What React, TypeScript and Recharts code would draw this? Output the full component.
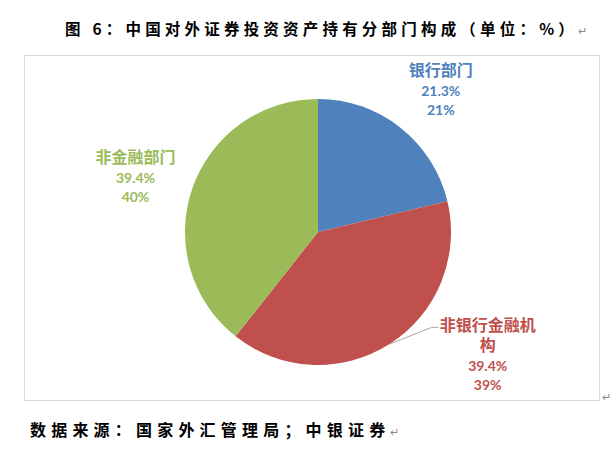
import React from "react";
import { Cell, Pie, PieChart } from "recharts";

const SECTORS = ["银行部门", "非银行金融机构", "非金融部门"];
const HOLDINGS = [21.3, 39.4, 39.4];
const SHARE_LABELS = ["21%", "39%", "40%"];
const COLORS = ["#4F81BD", "#C0504D", "#9BBB59"];

const TITLE = "图 6：中国对外证券投资资产持有分部门构成（单位：%）";
const SOURCE = "数据来源：国家外汇管理局；中银证券";

const data = SECTORS.map((name, i) => ({
  name,
  value: HOLDINGS[i],
  share: SHARE_LABELS[i],
}));

// where Excel's best-fit put each label, relative to the slice middle
const LABEL_LAYOUT = [
  { turn: -3, dist: 186, leader: false },
  { turn: 21, dist: 211, leader: true },
  { turn: 3, dist: 190, leader: false },
];

const RADIAN = Math.PI / 180;
const CN_FONT = '"Noto Sans CJK SC", sans-serif';

function renderLabel(props: any) {
  const { cx, cy, midAngle, outerRadius, index } = props;
  const item = data[index];
  const layout = LABEL_LAYOUT[index];
  const a = (midAngle + layout.turn) * RADIAN;
  const x = cx + layout.dist * Math.cos(a);
  const y = cy - layout.dist * Math.sin(a) - 3;
  const color = COLORS[index];

  const nameLines: string[] = [];
  for (let i = 0; i < item.name.length; i += 6) nameLines.push(item.name.slice(i, i + 6));
  const total = nameLines.length + 2;
  const top = y - ((total - 1) * 20) / 2;

  let leader = null;
  if (layout.leader) {
    const ex = cx + outerRadius * Math.cos(midAngle * RADIAN);
    const ey = cy - outerRadius * Math.sin(midAngle * RADIAN);
    const lx = x - 49;
    const ly = top + 3;
    leader = (
      <path
        d={`M${ex},${ey}L${lx - 7},${ly}L${lx},${ly}`}
        stroke="#A6A6A6"
        strokeWidth={1}
        fill="none"
      />
    );
  }

  return (
    <g>
      {leader}
      {nameLines.map((line, i) => (
        <text
          key={"n" + i}
          x={x}
          y={top + i * 20}
          textAnchor="middle"
          dominantBaseline="central"
          fill={color}
          fontFamily={CN_FONT}
          fontWeight="bold"
          fontSize={16}
        >
          {line}
        </text>
      ))}
      <text
        x={x}
        y={top + nameLines.length * 20 + 1}
        textAnchor="middle"
        dominantBaseline="central"
        fill={color}
        fontFamily="Lato, sans-serif"
        fontWeight="bold"
        fontSize={14}
      >
        {item.value.toFixed(1)}%
      </text>
      <text
        x={x}
        y={top + nameLines.length * 20 + 20}
        textAnchor="middle"
        dominantBaseline="central"
        fill={color}
        fontFamily="Lato, sans-serif"
        fontWeight="bold"
        fontSize={14}
      >
        {item.share}
      </text>
    </g>
  );
}

export default function App() {
  return (
    <div
      style={{
        position: "absolute",
        left: 0,
        top: 0,
        width: 610,
        height: 456,
        background: "#fff",
        fontFamily: CN_FONT,
      }}
    >
      <div
        style={{
          position: "absolute",
          left: 65,
          top: 17,
          fontSize: 15.5,
          fontWeight: "bold",
          letterSpacing: 4.2,
          color: "#000",
          whiteSpace: "nowrap",
        }}
      >
        {TITLE}
        <span style={{ color: "#888", fontWeight: "normal", fontSize: 11 }}>↵</span>
      </div>

      <div
        style={{
          position: "absolute",
          left: 24,
          top: 55,
          width: 576,
          height: 346,
          border: "1px solid #D9D9D9",
          boxSizing: "border-box",
        }}
      >
        <PieChart width={574} height={344}>
          <Pie
            data={data}
            dataKey="value"
            nameKey="name"
            cx={288}
            cy={171}
            outerRadius={133}
            startAngle={90}
            endAngle={-270}
            stroke="none"
            label={renderLabel}
            labelLine={false}
            isAnimationActive={false}
          >
            {data.map((d, i) => (
              <Cell key={d.name} fill={COLORS[i]} />
            ))}
          </Pie>
        </PieChart>
      </div>
      <div
        style={{ position: "absolute", left: 602, top: 388, fontSize: 11, color: "#888" }}
      >
        ↵
      </div>

      <div
        style={{
          position: "absolute",
          left: 30,
          top: 417,
          fontSize: 16,
          fontWeight: "bold",
          letterSpacing: 5.2,
          color: "#000",
          whiteSpace: "nowrap",
        }}
      >
        {SOURCE}
        <span style={{ color: "#888", fontWeight: "normal", fontSize: 11 }}>↵</span>
      </div>
    </div>
  );
}
